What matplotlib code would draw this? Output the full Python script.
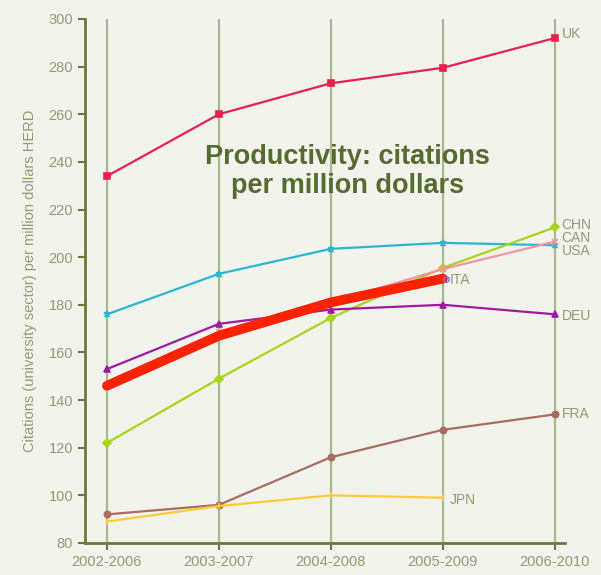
import matplotlib.pyplot as plt

periods = ['2002-2006', '2003-2007', '2004-2008', '2005-2009', '2006-2010']

uk = [234, 260, 273, 279.5, 292]
usa = [176, 193, 203.5, 206, 205]
chn = [122, 149, 174.5, 195.5, 212.5]
can = [146, 168.5, 181, 195, 206.5]
deu = [153, 172, 178, 180, 176]
fra = [92, 96, 116, 127.5, 134]
jpn = [89, 95.5, 100, 99]
ita = [146, 167, 181, 191]

# nom, valeurs, couleur, marqueur, epaisseur, position y de l'etiquette
series = [
    ('UK', uk, '#e8204e', 's', 1.6, 293.5),
    ('USA', usa, '#29b6d0', '*', 1.6, 202.5),
    ('CHN', chn, '#a8d418', 'D', 1.6, 213.5),
    ('CAN', can, '#f7929f', 'x', 1.6, 208),
    ('DEU', deu, '#a0199e', '^', 1.6, 175.5),
    ('FRA', fra, '#a86d60', 'o', 1.6, 134),
    ('JPN', jpn, '#ffcc33', '|', 1.6, 98),
    ('ITA', ita, '#ff2200', None, 7, 190.5),
]

bg = '#f3f3ee'
tick_col = '#8f9c6e'
axis_col = '#6b7a3a'

fig = plt.figure(figsize=(6.01, 5.75), dpi=100, facecolor=bg)
ax = fig.add_axes([0.1414, 0.0557, 0.7986, 0.9113])
ax.set_facecolor(bg)

x = list(range(len(periods)))
for i in x:
    ax.axvline(i, color='#a8b88a', lw=1.6, zorder=1)

for name, vals, col, mk, lw, ly in series:
    xs = x[:len(vals)]
    ms = 4 if mk == 'D' else 4.5
    ax.plot(xs, vals, color=col, lw=lw, marker=mk, ms=ms, mew=1.2,
            solid_capstyle='round', zorder=4 if name == 'ITA' else 3)
    if name == 'ITA':
        ax.plot(xs[-1] + 0.03, vals[-1], marker='o', ms=4, mfc='none',
                mec='#7a6fd0', mew=1, zorder=5)
    ax.text(xs[-1] + 0.06, ly, name, color=tick_col, fontsize=10,
            family='Liberation Sans', va='center', ha='left')

ax.set_xlim(-0.196, 4.09)
ax.set_ylim(80, 300)
ax.set_yticks(range(80, 301, 20))
ax.set_xticks(x)
ax.set_xticklabels(periods)

for s in ['top', 'right']:
    ax.spines[s].set_visible(False)
for s in ['left', 'bottom']:
    ax.spines[s].set_color(axis_col)
    ax.spines[s].set_linewidth(2)
ax.tick_params(colors=axis_col, labelcolor=tick_col, labelsize=10.5, width=1.5, length=5)
for lab in ax.get_xticklabels() + ax.get_yticklabels():
    lab.set_family('Liberation Sans')

ax.set_ylabel('Citations (university sector) per million dollars HERD',
              color=tick_col, fontsize=10.5, family='Liberation Sans', labelpad=8)

ax.text(2.15, 236, 'Productivity: citations\nper million dollars', color='#556b2f',
        fontsize=19.5, fontweight='bold', family='Liberation Sans', ha='center',
        va='center', linespacing=1.15, zorder=6)

fig.savefig('out.png', dpi=100, facecolor=bg)
